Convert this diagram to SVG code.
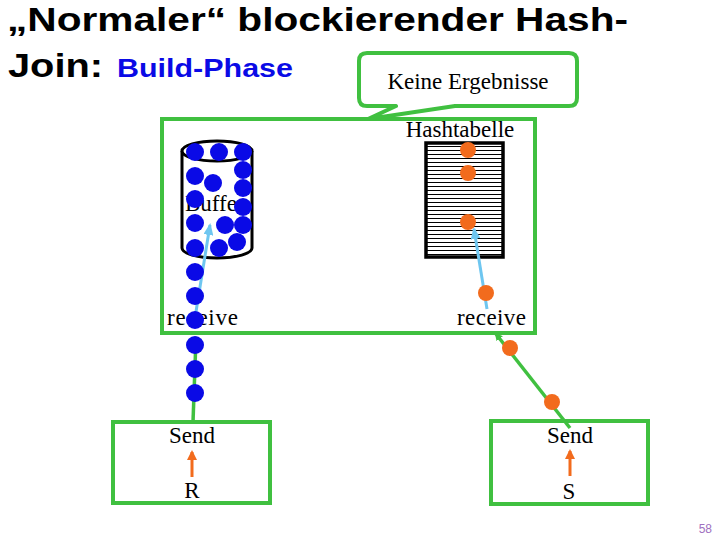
<svg xmlns="http://www.w3.org/2000/svg" width="720" height="540" viewBox="0 0 720 540">
<style>
.box{fill:#fff;stroke:#40c040;stroke-width:4}
.lbl{font-family:"Liberation Serif","Times New Roman",serif;font-size:23px;fill:#000}
.title{font-family:"Liberation Sans",Arial,sans-serif;font-weight:bold;fill:#000}
.bdot{fill:#0a0ae6}
.odot{fill:#f26b1d}
.gl{stroke:#40c040;stroke-width:3.5;fill:none}
.lb{stroke:#6ec6f0;stroke-width:3;fill:none}
.or{stroke:#f26b1d;stroke-width:3;fill:none}
</style>
<defs>
<marker id="ag" markerWidth="8" markerHeight="8" refX="6" refY="4" orient="auto" markerUnits="userSpaceOnUse"><path d="M0,0 L8,4 L0,8 z" fill="#40c040"/></marker>
<marker id="ab" markerWidth="12" markerHeight="10" refX="10" refY="5" orient="auto" markerUnits="userSpaceOnUse"><path d="M0,0 L12,5 L0,10 z" fill="#6ec6f0"/></marker>
<marker id="ao" markerWidth="10" markerHeight="10" refX="8" refY="5" orient="auto" markerUnits="userSpaceOnUse"><path d="M0,0 L10,5 L0,10 z" fill="#f26b1d"/></marker>
<pattern id="hlines" patternUnits="userSpaceOnUse" x="0" y="142" width="10" height="4"><rect width="10" height="4" fill="#fff"/><rect y="0" width="10" height="1" fill="#000"/></pattern>
</defs>
<rect width="720" height="540" fill="#fff"/>

<g id="title">
<text class="title" x="7" y="31" font-size="34" textLength="621" lengthAdjust="spacingAndGlyphs">„Normaler“ blockierender Hash-</text>
<text class="title" x="8" y="77" font-size="34" textLength="95" lengthAdjust="spacingAndGlyphs">Join:</text>
<text class="title" x="117" y="77" font-size="26" style="fill:#0a0ae6" textLength="176" lengthAdjust="spacingAndGlyphs">Build-Phase</text>
</g>

<g id="operator">
<rect class="box" x="162" y="119" width="373" height="214"/>
</g>

<g id="callout">
<path d="M367,53 H569 Q577,53 577,61 V98 Q577,106 569,106 H455 L368,119 L396,106 H367 Q359,106 359,98 V61 Q359,53 367,53 Z" fill="#fff" stroke="#40c040" stroke-width="4" stroke-linejoin="round"/>
<text class="lbl" x="468" y="89" text-anchor="middle" font-size="22">Keine Ergebnisse</text>
</g>

<g id="buffer">
<path d="M182,151 V248 A35,10 0 0 0 252,248 V151" fill="#fff" stroke="#000" stroke-width="3"/>
<ellipse cx="217" cy="151" rx="35" ry="10" fill="#fff" stroke="#000" stroke-width="3"/>
<text class="lbl" x="185" y="211" font-size="21">Buffer</text>
</g>

<g id="hashtable">
<rect x="426" y="143" width="77" height="114" fill="url(#hlines)" stroke="#000" stroke-width="3.5"/>
<text class="lbl" x="460" y="137" text-anchor="middle" font-size="23.5">Hashtabelle</text>
</g>

<g id="receiveR">
<text class="lbl" x="167" y="325" font-size="24" textLength="71">receive</text>
</g>
<g id="receiveS">
<text class="lbl" x="457" y="325" font-size="24" textLength="69">receive</text>
</g>

<g id="sendR">
<rect class="box" x="113" y="422" width="157" height="81"/>
<text class="lbl" x="192" y="443" text-anchor="middle">Send</text>
<text class="lbl" x="192" y="498" text-anchor="middle">R</text>
</g>
<g id="sendS">
<rect class="box" x="491" y="421" width="157" height="83"/>
<text class="lbl" x="570" y="443" text-anchor="middle">Send</text>
<text class="lbl" x="569" y="499" text-anchor="middle">S</text>
</g>

<g id="connectors">
<line class="gl" x1="193" y1="422" x2="196" y2="338" marker-end="url(#ag)"/>
<line class="gl" x1="570" y1="428" x2="496" y2="334" marker-end="url(#ag)"/>
<line class="lb" x1="195" y1="318" x2="210" y2="225" marker-end="url(#ab)"/>
<line class="lb" x1="487" y1="309" x2="474" y2="229" marker-end="url(#ab)"/>
<line class="or" x1="192" y1="477" x2="192" y2="452" marker-end="url(#ao)"/>
<line class="or" x1="570" y1="476" x2="570" y2="451" marker-end="url(#ao)"/>
</g>

<g id="tuplesR">
<circle class="bdot" cx="195" cy="152" r="9"/>
<circle class="bdot" cx="219" cy="152" r="9"/>
<circle class="bdot" cx="243" cy="152" r="9"/>
<circle class="bdot" cx="243" cy="170" r="9"/>
<circle class="bdot" cx="195" cy="176" r="9"/>
<circle class="bdot" cx="213" cy="183" r="9"/>
<circle class="bdot" cx="243" cy="188" r="9"/>
<circle class="bdot" cx="195" cy="199" r="9"/>
<circle class="bdot" cx="243" cy="207" r="9"/>
<circle class="bdot" cx="195" cy="223" r="9"/>
<circle class="bdot" cx="225" cy="225" r="9"/>
<circle class="bdot" cx="243" cy="225" r="9"/>
<circle class="bdot" cx="237" cy="242" r="9"/>
<circle class="bdot" cx="195" cy="248" r="9"/>
<circle class="bdot" cx="219" cy="248" r="9"/>
<circle class="bdot" cx="195" cy="272" r="9"/>
<circle class="bdot" cx="195" cy="296" r="9"/>
<circle class="bdot" cx="195" cy="320" r="9"/>
<circle class="bdot" cx="195" cy="345" r="9"/>
<circle class="bdot" cx="195" cy="369" r="9"/>
<circle class="bdot" cx="195" cy="393" r="9"/>
</g>

<g id="tuplesS">
<circle class="odot" cx="468" cy="150" r="8"/>
<circle class="odot" cx="468" cy="173" r="8"/>
<circle class="odot" cx="468" cy="222" r="8"/>
<circle class="odot" cx="486" cy="293" r="8"/>
<circle class="odot" cx="510" cy="348" r="8"/>
<circle class="odot" cx="552" cy="402" r="8"/>
</g>

<text x="712" y="533" text-anchor="end" font-family="Liberation Sans, Arial, sans-serif" font-size="12" fill="#a070c0">58</text>
</svg>
